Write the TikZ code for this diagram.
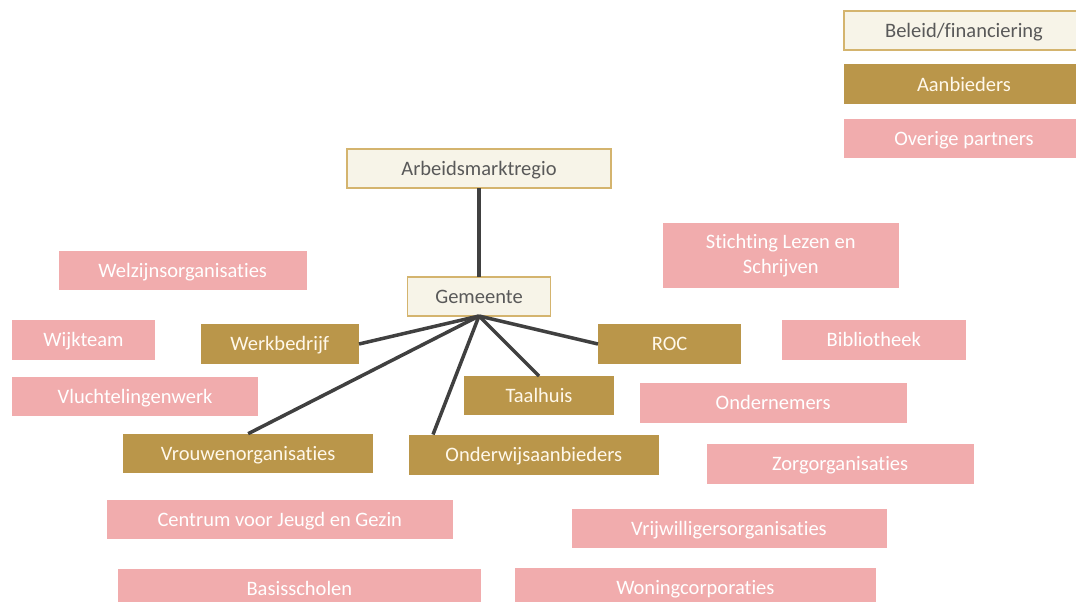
\documentclass[tikz,border=0pt]{standalone}
\usepackage{fontspec}
\setmainfont[Ligatures={NoCommon,NoRare,NoContextual},Contextuals={NoAlternate}]{Carlito}
\definecolor{beigefill}{HTML}{F7F4E8}
\definecolor{beigeline}{HTML}{D4B46E}
\definecolor{goldfill}{HTML}{BA964A}
\definecolor{pinkfill}{HTML}{F1ACAD}
\definecolor{greytext}{HTML}{595959}
\definecolor{creamtext}{HTML}{FFF8EA}
\definecolor{linkcol}{HTML}{404040}
\tikzset{
  box/.style={rectangle, inner sep=0pt, outer sep=0pt, align=center,
    font=\fontsize{20.5}{25}\selectfont, text height=16.2pt, text depth=2.6pt},
  beigebox/.style={box, fill=beigefill, draw=beigeline, line width=1.2pt, text=greytext},
  goldbox/.style={box, fill=goldfill, text=creamtext},
  pinkbox/.style={box, fill=pinkfill, text=white},
  link/.style={draw=linkcol, line width=3.5pt}
}
\begin{document}
\begin{tikzpicture}[x=1pt,y=-1pt]
\clip (0,0) rectangle (1076,602);
\fill[white] (0,0) rectangle (1076,602);
% legend
\node[beigebox, minimum width=240pt, minimum height=39pt] (leg1) at (964,30.5) {Beleid/financiering};
\node[goldbox, minimum width=240pt, minimum height=39.5pt] (leg2) at (964,84.25) {Aanbieders};
\node[pinkbox, minimum width=240pt, minimum height=39pt] (leg3) at (964,138.5) {Overige partners};
% main
\node[beigebox, minimum width=264pt, minimum height=39pt] (arb) at (479,168.5) {Arbeidsmarktregio};
\node[beigebox, minimum width=143pt, minimum height=39pt] (gem) at (479,296.5) {Gemeente};
\node[pinkbox, text height=, text depth=, minimum width=235.5pt, minimum height=64.5pt] (stich) at (780.75,255.25) {\raisebox{0pt}[15pt][0pt]{}Stichting Lezen en\\Schrijven\raisebox{0pt}[0pt][4.5pt]{}};
\node[pinkbox, minimum width=248.5pt, minimum height=39.5pt] (welz) at (182.75,270.25) {Welzijnsorganisaties};
\node[pinkbox, minimum width=143pt, minimum height=39.7pt] (wijk) at (83.5,339.85) {Wijkteam};
\node[goldbox, minimum width=158.5pt, minimum height=39.4pt] (werk) at (279.75,344) {Werkbedrijf};
\node[goldbox, minimum width=143.3pt, minimum height=40pt] (roc) at (669.65,344) {ROC};
\node[pinkbox, minimum width=184.5pt, minimum height=40pt] (bib) at (873.75,340) {Bibliotheek};
\node[pinkbox, minimum width=246.3pt, minimum height=39.3pt] (vlucht) at (135.15,396.65) {Vluchtelingenwerk};
\node[goldbox, minimum width=150pt, minimum height=39.3pt] (taal) at (539,395.65) {Taalhuis};
\node[pinkbox, minimum width=267.2pt, minimum height=39.4pt] (onder) at (773.1,403) {Ondernemers};
\node[goldbox, minimum width=250.3pt, minimum height=39.3pt] (vrouw) at (248.15,453.35) {Vrouwenorganisaties};
\node[goldbox, minimum width=249.7pt, minimum height=40pt] (onderw) at (533.85,454.5) {Onderwijsaanbieders};
\node[pinkbox, minimum width=267.2pt, minimum height=40pt] (zorg) at (840.1,464) {Zorgorganisaties};
\node[pinkbox, minimum width=346.5pt, minimum height=39.8pt] (cjg) at (279.75,519.4) {Centrum voor Jeugd en Gezin};
\node[pinkbox, minimum width=315pt, minimum height=39.6pt] (vrij) at (729,528.5) {Vrijwilligersorganisaties};
\node[pinkbox, minimum width=362.8pt, minimum height=39.7pt] (basis) at (299.4,589.15) {Basisscholen};
\node[pinkbox, minimum width=361.3pt, minimum height=40pt] (won) at (695.35,588) {Woningcorporaties};
% connectors
\draw[link] (arb.south) -- (gem.north);
\draw[link] (gem.south) -- (werk.east);
\draw[link] (gem.south) -- (roc.west);
\draw[link] (gem.south) -- (taal.north);
\draw[link] (gem.south) -- (vrouw.north);
\draw[link] (gem.south) -- ([xshift=24pt]onderw.north west);
\end{tikzpicture}
\end{document}
